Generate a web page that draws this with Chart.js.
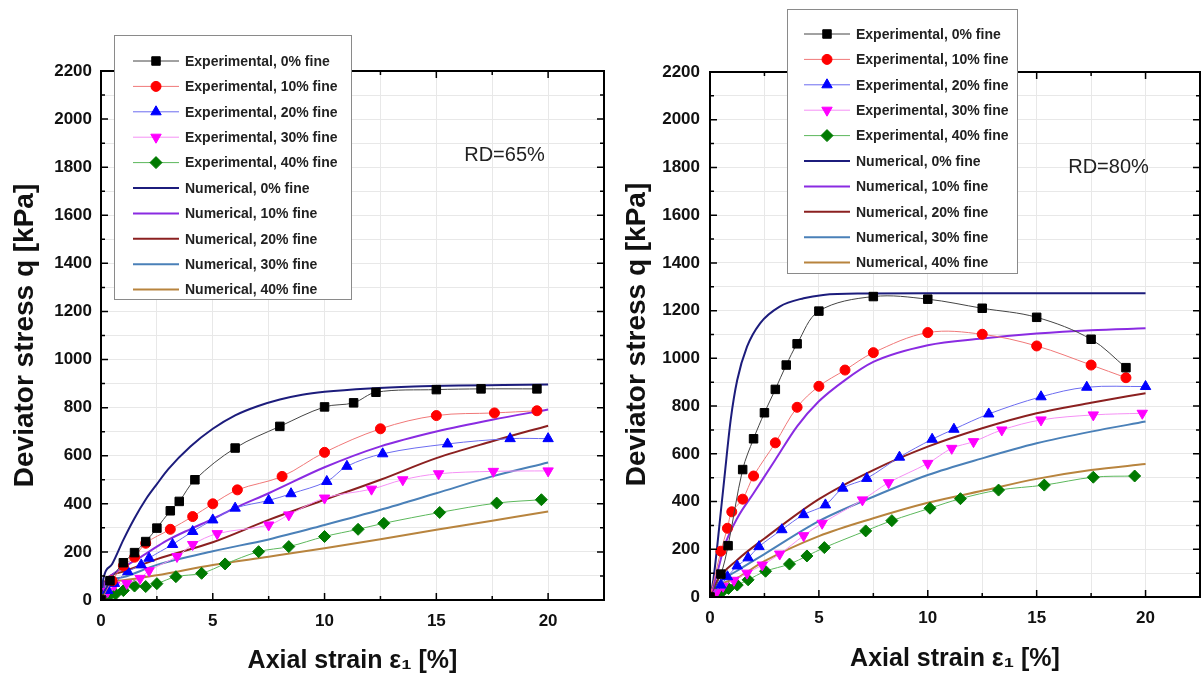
<!DOCTYPE html>
<html>
<head>
<meta charset="utf-8">
<script src="https://cdn.jsdelivr.net/npm/chart.js@4"></script>
<style>
  body { margin: 0; background: #fff; width: 1204px; height: 678px; overflow: hidden; position: relative; }
  canvas { position: absolute; top: 0; }
  #c65 { left: 0; }
  #c80 { left: 606px; }
</style>
</head>
<body>
<canvas id="c65" width="611" height="678"></canvas>
<canvas id="c80" width="601" height="678"></canvas>
<script>
// ---- labels ----
const seriesLabels = [
  "Experimental, 0% fine", "Experimental, 10% fine", "Experimental, 20% fine",
  "Experimental, 30% fine", "Experimental, 40% fine",
  "Numerical, 0% fine", "Numerical, 10% fine", "Numerical, 20% fine",
  "Numerical, 30% fine", "Numerical, 40% fine"
];
const xTitle = "Axial strain ε₁ [%]";
const yTitle = "Deviator stress q [kPa]";

// ---- RD = 65% (left) ----
const rd65Exp0X = [0, 0.4, 1.0, 1.5, 2.0, 2.5, 3.1, 3.5, 4.2, 6.0, 8.0, 10.0, 11.3, 12.3, 15.0, 17.0, 19.5];
const rd65Exp0Y = [0, 80, 155, 197, 243, 299, 371, 410, 500, 632, 722, 803, 820, 864, 875, 878, 878];
const rd65Exp10X = [0, 0.5, 1.0, 1.5, 2.0, 3.1, 4.1, 5.0, 6.1, 8.1, 10.0, 12.5, 15.0, 17.6, 19.5];
const rd65Exp10Y = [0, 80, 142, 178, 236, 294, 347, 400, 458, 514, 614, 712, 767, 778, 787];
const rd65Exp20X = [0, 0.3, 0.6, 1.2, 1.8, 2.15, 3.2, 4.1, 5.0, 6.0, 7.5, 8.5, 10.1, 11.0, 12.6, 15.5, 18.3, 20.0];
const rd65Exp20Y = [0, 40, 69, 118, 146, 174, 231, 285, 333, 382, 414, 442, 493, 556, 608, 649, 671, 671];
const rd65Exp30X = [0, 0.3, 0.6, 1.15, 1.75, 2.15, 3.4, 4.1, 5.2, 7.5, 8.4, 10.0, 12.1, 13.5, 15.1, 17.55, 20.0];
const rd65Exp30Y = [0, 35, 62, 69, 90, 122, 181, 231, 276, 312, 354, 424, 461, 500, 525, 535, 537];
const rd65Exp40X = [0, 0.15, 0.35, 0.65, 1.0, 1.5, 2.0, 2.5, 3.35, 4.5, 5.55, 7.05, 8.4, 10.0, 11.5, 12.65, 15.15, 17.7, 19.7];
const rd65Exp40Y = [0, 8, 17, 25, 39, 58, 56, 68, 97, 111, 150, 201, 222, 264, 294, 319, 364, 403, 417];

const rd65Num0X = [0, 0.1, 0.5, 1, 1.5, 2, 2.5, 3, 4, 5, 6, 7, 8, 9, 10, 12, 14, 16, 18, 20];
const rd65Num0Y = [0, 85, 150, 250, 340, 418, 482, 543, 638, 712, 768, 806, 834, 854, 866, 880, 888, 892, 894, 896];
const rd65Num10X = [0, 0.2, 0.5, 1, 2, 2.5, 3, 4, 5, 6, 7.5, 10, 12.5, 15, 17.5, 20];
const rd65Num10Y = [0, 75, 105, 135, 192, 222, 250, 295, 337, 383, 444, 552, 639, 701, 750, 792];
const rd65NumX = [0, 0.15, 0.4, 1, 2.5, 5, 7.5, 10, 12.5, 15, 17.5, 20];
const rd65Num20Y = [0, 70, 100, 118, 170, 240, 333, 417, 500, 590, 660, 725];
const rd65Num30Y = [0, 60, 83, 95, 146, 203, 252, 312, 375, 444, 514, 572];
const rd65Num40Y = [0, 55, 75, 82, 103, 146, 180, 215, 253, 292, 330, 368];

// ---- RD = 80% (right) ----
const rd80Exp0X = [0, 0.5, 0.83, 1.5, 2.0, 2.5, 3.0, 3.5, 4.0, 5.0, 7.5, 10.0, 12.5, 15.0, 17.5, 19.1];
const rd80Exp0Y = [0, 96, 215, 534, 663, 772, 870, 972, 1061, 1198, 1259, 1248, 1210, 1172, 1080, 961];
const rd80Exp10X = [0, 0.5, 0.8, 1.0, 1.5, 2.0, 3.0, 4.0, 5.0, 6.2, 7.5, 10.0, 12.5, 15.0, 17.5, 19.1];
const rd80Exp10Y = [0, 192, 288, 357, 410, 507, 646, 795, 883, 951, 1024, 1108, 1101, 1052, 972, 919];
const rd80Exp20X = [0, 0.5, 0.8, 1.25, 1.75, 2.25, 3.3, 4.3, 5.3, 6.1, 7.2, 8.7, 10.2, 11.2, 12.8, 15.2, 17.3, 20.0];
const rd80Exp20Y = [0, 50, 85, 130, 164, 211, 282, 345, 386, 456, 497, 586, 661, 703, 767, 839, 879, 882];
const rd80Exp30X = [0, 0.3, 0.6, 1.1, 1.7, 2.4, 3.2, 4.3, 5.15, 7.0, 8.2, 10.0, 11.1, 12.1, 13.4, 15.2, 17.6, 19.85];
const rd80Exp30Y = [0, 20, 45, 70, 100, 134, 180, 257, 309, 407, 479, 560, 623, 651, 700, 742, 763, 770];
const rd80Exp40X = [0, 0.25, 0.55, 0.85, 1.25, 1.75, 2.55, 3.65, 4.45, 5.25, 7.15, 8.35, 10.1, 11.5, 13.25, 15.35, 17.6, 19.5];
const rd80Exp40Y = [0, 15, 22, 36, 50, 72, 108, 138, 172, 207, 277, 320, 372, 412, 448, 469, 502, 507];

const rd80Num0X = [0, 0.15, 0.33, 0.5, 0.65, 0.95, 1.25, 1.7, 2.3, 3.2, 4.3, 5.2, 7, 10, 15, 20];
const rd80Num0Y = [0, 70, 211, 360, 490, 742, 909, 1049, 1147, 1217, 1252, 1266, 1272, 1273, 1273, 1273];
const rd80Num10X = [0, 0.2, 0.4, 0.65, 1.25, 2.0, 3.0, 4.0, 5.0, 6.2, 7.5, 10, 12.5, 15, 17.5, 20];
const rd80Num10Y = [0, 60, 125, 210, 330, 435, 575, 715, 820, 909, 985, 1055, 1083, 1104, 1118, 1126];
const rd80NumX = [0, 0.3, 1.25, 2.5, 5, 7.5, 10, 12.5, 15, 17.5, 20];
const rd80Num20Y = [0, 65, 155, 245, 410, 532, 630, 707, 770, 814, 854];
const rd80Num30Y = [0, 50, 110, 180, 318, 420, 511, 581, 644, 693, 735];
const rd80Num40Y = [0, 40, 80, 150, 255, 330, 395, 445, 495, 532, 557];

// ---- styles ----
const FONT = '"Liberation Sans", Arial, sans-serif';
const expStyles = [
  { marker: "#000000", line: "#444444", pointStyle: "rect", radius: 6, rotation: 0 },
  { marker: "#ff0000", line: "#f07878", pointStyle: "circle", radius: 5, rotation: 0 },
  { marker: "#0000ff", line: "#6c6cf0", pointStyle: "triangle", radius: 6, rotation: 0 },
  { marker: "#ff00ff", line: "#f590f5", pointStyle: "triangle", radius: 6, rotation: 180 },
  { marker: "#007a00", line: "#5cb85c", pointStyle: "rectRot", radius: 6, rotation: 0 }
];
const numColors = ["#1c1c7c", "#8a2be2", "#8b2020", "#4a80b8", "#b8843e"];

const pts = (xs, ys) => xs.map((x, i) => ({ x: x, y: ys[i] }));

function buildDatasets(exp, num) {
  const sets = [];
  exp.forEach((s, i) => {
    const st = expStyles[i];
    sets.push({
      label: seriesLabels[i],
      data: pts(s[0], s[1]),
      borderColor: st.line,
      borderWidth: 1,
      backgroundColor: st.marker,
      pointBackgroundColor: st.marker,
      pointBorderColor: st.marker,
      pointStyle: st.pointStyle,
      pointRadius: st.radius,
      pointRotation: st.rotation,
      tension: 0.35,
      isExp: true
    });
  });
  num.forEach((s, i) => {
    sets.push({
      label: seriesLabels[5 + i],
      data: pts(s[0], s[1]),
      borderColor: numColors[i],
      borderWidth: 2,
      pointRadius: 0,
      cubicInterpolationMode: "monotone",
      isExp: false
    });
  });
  return sets;
}

// frame + inward ticks on all four sides
const frameTicks = {
  id: "frameTicks",
  afterDatasetsDraw(chart) {
    const { ctx, chartArea: a, scales } = chart;
    ctx.save();
    ctx.strokeStyle = "#000";
    ctx.lineWidth = 1.5;
    scales.x.ticks.forEach(t => {
      const px = scales.x.getPixelForValue(t.value);
      const len = t.value % 5 === 0 ? 7 : 4;
      ctx.beginPath();
      ctx.moveTo(px, a.bottom); ctx.lineTo(px, a.bottom - len);
      ctx.moveTo(px, a.top); ctx.lineTo(px, a.top + len);
      ctx.stroke();
    });
    scales.y.ticks.forEach(t => {
      const py = scales.y.getPixelForValue(t.value);
      const len = t.value % 200 === 0 ? 7 : 4;
      ctx.beginPath();
      ctx.moveTo(a.left, py); ctx.lineTo(a.left + len, py);
      ctx.moveTo(a.right, py); ctx.lineTo(a.right - len, py);
      ctx.stroke();
    });
    ctx.lineWidth = 2;
    ctx.strokeRect(a.left, a.top, a.right - a.left, a.bottom - a.top);
    // RD annotation
    const o = chart.options.plugins.frameTicks;
    ctx.fillStyle = "#222";
    ctx.font = "20px " + FONT;
    ctx.textAlign = "center";
    ctx.textBaseline = "middle";
    ctx.fillText(o.note, scales.x.getPixelForValue(o.noteX), scales.y.getPixelForValue(o.noteY));
    ctx.restore();
  }
};

// boxed legend drawn from the datasets
const boxLegend = {
  id: "boxLegend",
  afterDraw(chart) {
    const o = chart.options.plugins.boxLegend;
    const ctx = chart.ctx;
    ctx.save();
    ctx.fillStyle = "#fff";
    ctx.fillRect(o.left, o.top, o.width, o.height);
    ctx.strokeStyle = "#8a8a8a";
    ctx.lineWidth = 1;
    ctx.strokeRect(o.left + 0.5, o.top + 0.5, o.width, o.height);
    ctx.font = "bold 14px " + FONT;
    ctx.textBaseline = "middle";
    ctx.textAlign = "left";
    chart.data.datasets.forEach((ds, i) => {
      const y = o.top + o.first + i * o.step;
      const x0 = o.left + o.lineX0, x1 = o.left + o.lineX1;
      ctx.strokeStyle = ds.borderColor;
      ctx.lineWidth = ds.borderWidth;
      ctx.beginPath(); ctx.moveTo(x0, y); ctx.lineTo(x1, y); ctx.stroke();
      if (ds.isExp) {
        ctx.fillStyle = ds.pointBackgroundColor;
        ctx.strokeStyle = ds.pointBorderColor;
        Chart.helpers.drawPoint(ctx, {
          pointStyle: ds.pointStyle, rotation: ds.pointRotation,
          radius: ds.pointRadius, borderWidth: 1
        }, (x0 + x1) / 2, y);
      }
      ctx.fillStyle = "#222";
      ctx.fillText(ds.label, o.left + o.textX, y + 1);
    });
    ctx.restore();
  }
};

function makeChart(id, datasets, lay) {
  return new Chart(document.getElementById(id), {
    type: "line",
    data: { datasets: datasets },
    plugins: [frameTicks, boxLegend],
    options: {
      responsive: false,
      animation: false,
      events: [],
      layout: { padding: { top: lay.top, right: 0, left: 0, bottom: 0 } },
      plugins: {
        legend: { display: false },
        tooltip: { enabled: false },
        boxLegend: lay.legend,
        frameTicks: { note: lay.note, noteX: lay.noteX, noteY: lay.noteY }
      },
      scales: {
        x: {
          type: "linear",
          min: 0, max: 22.5,
          afterFit: s => { s.height = lay.xAxisH; s.paddingLeft = 0; s.paddingRight = 0; },
          grid: { color: "#e8e8e8", drawTicks: false },
          border: { display: false },
          ticks: {
            stepSize: 2.5, padding: lay.xTickPad, maxRotation: 0,
            color: "#111", font: { family: FONT, size: 17, weight: "bold" },
            callback: v => (v % 5 === 0 ? v : "")
          },
          title: {
            display: true, text: xTitle, color: "#111",
            font: { family: FONT, size: 25, weight: "bold" },
            padding: { top: 0, bottom: lay.xTitlePad }
          }
        },
        y: {
          min: 0, max: 2200,
          afterFit: s => { s.width = lay.yAxisW; s.paddingTop = 0; s.paddingBottom = 0; },
          grid: { color: "#e8e8e8", drawTicks: false },
          border: { display: false },
          ticks: {
            stepSize: 100, padding: lay.yTickPad,
            color: "#111", font: { family: FONT, size: 17, weight: "bold" },
            callback: v => (v % 200 === 0 ? v : "")
          },
          title: {
            display: true, text: yTitle, color: "#111",
            font: { family: FONT, size: 28, weight: "bold" },
            padding: { top: lay.yTitlePad, bottom: 0 }
          }
        }
      }
    }
  });
}

makeChart("c65", buildDatasets(
  [[rd65Exp0X, rd65Exp0Y], [rd65Exp10X, rd65Exp10Y], [rd65Exp20X, rd65Exp20Y],
   [rd65Exp30X, rd65Exp30Y], [rd65Exp40X, rd65Exp40Y]],
  [[rd65Num0X, rd65Num0Y], [rd65Num10X, rd65Num10Y], [rd65NumX, rd65Num20Y],
   [rd65NumX, rd65Num30Y], [rd65NumX, rd65Num40Y]]
), {
  top: 71, xAxisH: 78, yAxisW: 101,
  xTickPad: 11, yTickPad: 9, xTitlePad: 2, yTitlePad: 8,
  note: "RD=65%", noteX: 18.05, noteY: 1850,
  legend: { left: 114, top: 35, width: 237, height: 264, first: 26, step: 25.4, lineX0: 19, lineX1: 65, textX: 71 }
});

makeChart("c80", buildDatasets(
  [[rd80Exp0X, rd80Exp0Y], [rd80Exp10X, rd80Exp10Y], [rd80Exp20X, rd80Exp20Y],
   [rd80Exp30X, rd80Exp30Y], [rd80Exp40X, rd80Exp40Y]],
  [[rd80Num0X, rd80Num0Y], [rd80Num10X, rd80Num10Y], [rd80NumX, rd80Num20Y],
   [rd80NumX, rd80Num30Y], [rd80NumX, rd80Num40Y]]
), {
  top: 72, xAxisH: 81, yAxisW: 104,
  xTickPad: 11, yTickPad: 10, xTitlePad: 4, yTitlePad: 14,
  note: "RD=80%", noteX: 18.3, noteY: 1800,
  legend: { left: 181, top: 9, width: 230, height: 264, first: 25, step: 25.4, lineX0: 17, lineX1: 63, textX: 69 }
});
</script>
</body>
</html>
